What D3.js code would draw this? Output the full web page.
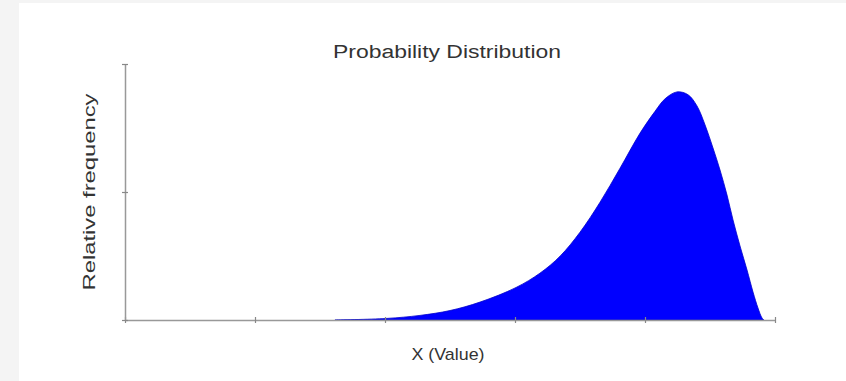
<!DOCTYPE html>
<html>
<head>
<meta charset="utf-8">
<script src="https://cdn.jsdelivr.net/npm/d3@7"></script>
<style>
  html, body { margin: 0; padding: 0; background: #f4f4f4; }
  #chart { position: absolute; left: 19px; top: 3px; width: 827px; height: 378px; background: #fff; }
  text { font-family: "Liberation Sans", Arial, sans-serif; fill: #333; }
</style>
</head>
<body>
<div id="chart"></div>
<script>
// Probability distribution (left-skewed)
const xValues = [1.615, 2.008, 2.269, 2.5, 2.731, 3.008, 3.192, 3.346, 3.5, 3.654, 3.808, 3.962, 4.077, 4.154, 4.246, 4.331, 4.4, 4.462, 4.523, 4.577, 4.631, 4.677, 4.731, 4.785, 4.831, 4.869, 4.9, 4.915];
const yValues = [0.0, 0.006, 0.018, 0.037, 0.070, 0.127, 0.183, 0.249, 0.343, 0.460, 0.593, 0.730, 0.815, 0.864, 0.891, 0.880, 0.836, 0.762, 0.672, 0.586, 0.488, 0.391, 0.289, 0.195, 0.109, 0.047, 0.008, 0.0];
const xTicks = [0, 1, 2, 3, 4, 5];
const yTicks = [0, 0.5, 1];

const data = xValues.map((x, i) => ({ x: x, y: yValues[i] }));

const svg = d3.select('#chart').append('svg')
    .attr('width', 827)
    .attr('height', 378);

// plot area in page coords: x 125..775, y 64..320
const margin = { left: 106, top: 61 };
const width = 650;
const height = 256;

const g = svg.append('g')
    .attr('transform', `translate(${margin.left},${margin.top})`);

const xScale = d3.scaleLinear().domain([0, 5]).range([0, width]);
const yScale = d3.scaleLinear().domain([0, 1]).range([height, 0]);

// Filled area
const area = d3.area()
    .x(d => xScale(d.x))
    .y0(height)
    .y1(d => Math.min(height, yScale(d.y)))
    .curve(d3.curveCatmullRom.alpha(0.5));

g.append('path')
    .datum(data)
    .attr('d', area)
    .attr('fill', '#0000ff')
    .attr('stroke', '#0000cc')
    .attr('stroke-width', 0.8);

// Axes
const xAxis = d3.axisBottom(xScale)
    .tickValues(xTicks)
    .tickFormat('')
    .tickSizeInner(3)
    .tickSizeOuter(0);

const xg = g.append('g')
    .attr('transform', `translate(0,${height})`)
    .call(xAxis);
xg.select('.domain').attr('stroke', '#999').attr('stroke-width', 1.5);
xg.selectAll('.tick line').attr('stroke', '#888').attr('y1', -3).attr('stroke-width', 1.2);

const yAxis = d3.axisLeft(yScale)
    .tickValues(yTicks)
    .tickFormat('')
    .tickSizeInner(3)
    .tickSizeOuter(0);

const yg = g.append('g').call(yAxis);
yg.select('.domain').attr('stroke', '#999').attr('stroke-width', 1.5);
yg.selectAll('.tick line').attr('stroke', '#888').attr('x1', 3).attr('x2', -3).attr('stroke-width', 1.2);

// Title and labels
svg.append('text')
    .attr('x', 428)
    .attr('y', 55)
    .attr('text-anchor', 'middle')
    .attr('textLength', 228)
    .attr('lengthAdjust', 'spacingAndGlyphs')
    .style('font-size', '18px')
    .text('Probability Distribution');

svg.append('text')
    .attr('x', 429)
    .attr('y', 357)
    .attr('text-anchor', 'middle')
    .attr('textLength', 73)
    .attr('lengthAdjust', 'spacingAndGlyphs')
    .style('font-size', '17px')
    .text('X (Value)');

svg.append('text')
    .attr('transform', 'rotate(-90)')
    .attr('x', -189)
    .attr('y', 76)
    .attr('text-anchor', 'middle')
    .attr('textLength', 197)
    .attr('lengthAdjust', 'spacingAndGlyphs')
    .style('font-size', '17px')
    .text('Relative frequency');
</script>
</body>
</html>
